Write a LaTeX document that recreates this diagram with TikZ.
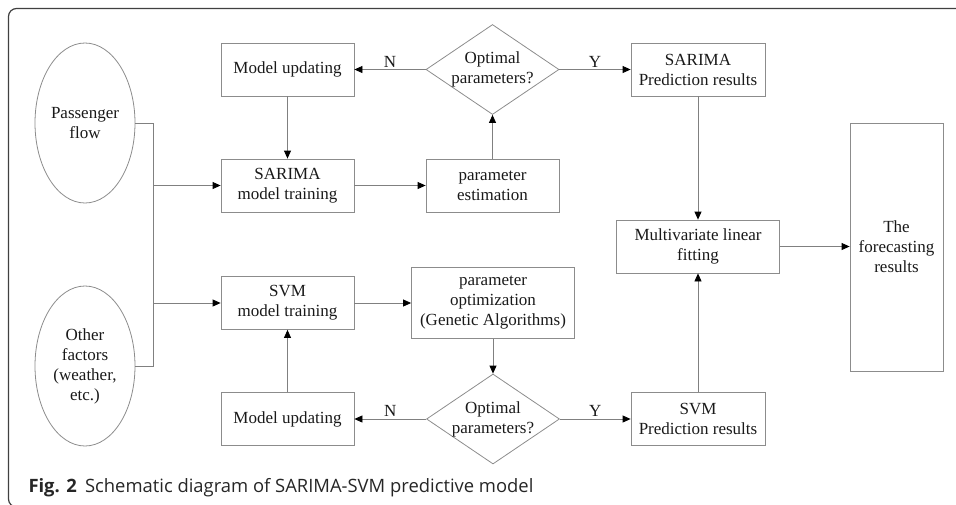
\documentclass[tikz,border=0pt]{standalone}
\usepackage{fontspec}
\setmainfont{Liberation Serif}
\newfontfamily\capfont{Open Sans}
\usetikzlibrary{arrows.meta,shapes.geometric}

\begin{document}
\begin{tikzpicture}[x=1pt, y=-1pt,
		font=\fontsize{17}{20}\selectfont,
		box/.style={draw=black!45, line width=0.8pt, align=center, inner sep=0pt, minimum width=133pt, minimum height=53pt, text=black!90},
		oval/.style={draw=black!45, line width=0.8pt, ellipse, align=center, inner sep=0pt, minimum width=100pt, minimum height=160pt, text=black!90},
		dec/.style={draw=black!45, line width=0.8pt, diamond, aspect=1.48, inner sep=-8pt, minimum width=133pt, minimum height=90pt, align=center, text=black!90},
		line/.style={draw=black!50, line width=0.8pt},
		arr/.style={line, -{Triangle[length=8pt, width=7pt, color=black]}},
		yn/.style={above, inner sep=2pt, text=black!90}]
		%%%%% START %%%%%
		
		\clip (0, 0) rectangle (956, 504);
		\draw[black!75, line width=1.2pt, rounded corners=8pt] (8.5, 8.5) rectangle (990, 507);
		
		\node[oval] (pass) at (85, 123) {Passenger\\flow};
		\node[oval] (other) at (85, 366) {Other\\factors\\(weather,\\etc.)};
		\coordinate (bus) at (153, 0);
		
		\node[box] (sarupd) at (287.5, 69.5) {Model updating};
		\node[box] (sartrain) at (287.5, 185.5) {SARIMA\\model training};
		\node[box] (sarest) at (492.5, 185.5) {parameter\\estimation};
		\node[dec] (saropt) at (492.5, 69.5) {Optimal\\parameters?};
		\node[box, minimum width=134pt] (sarres) at (698, 69.5) {SARIMA\\Prediction results};
		
		\node[box, minimum width=163pt] (fit) at (698, 246.5) {Multivariate linear\\fitting};
		\node[box, minimum width=93pt, minimum height=248pt] (fore) at (896.5, 247) {The\\forecasting\\results};
		
		\node[box] (svmtrain) at (287.5, 303) {SVM\\model training};
		\node[box, minimum width=163pt, minimum height=71pt] (svmga) at (493, 303) {parameter\\optimization\\(Genetic Algorithms)};
		\node[dec] (svmopt) at (493, 419) {Optimal\\parameters?};
		\node[box] (svmupd) at (287.5, 419) {Model updating};
		\node[box, minimum width=134pt] (svmres) at (698, 419) {SVM\\Prediction results};
		
		% inputs
		\draw[line] (pass.east) -| (bus |- other.east) -- (other.east);
		\draw[arr] (bus |- sartrain.west) -- (sartrain.west);
		\draw[arr] (bus |- svmtrain.west) -- (svmtrain.west);
		
		% SARIMA branch
		\draw[arr] (sarupd) -- (sartrain);
		\draw[arr] (sartrain) -- (sarest);
		\draw[arr] (sarest) -- (saropt);
		\draw[arr] (saropt) -- node[yn] {N} (sarupd);
		\draw[arr] (saropt) -- node[yn] {Y} (sarres);
		\draw[arr] (sarres) -- (fit);
		
		% SVM branch
		\draw[arr] (svmtrain) -- (svmga);
		\draw[arr] (svmga) -- (svmopt);
		\draw[arr] (svmopt) -- node[yn] {N} (svmupd);
		\draw[arr] (svmopt) -- node[yn] {Y} (svmres);
		\draw[arr] (svmupd) -- (svmtrain);
		\draw[arr] (svmres) -- (fit);
		
		\draw[arr] (fit.east) -- (fit.east -| fore.west);
		
		\node[anchor=base west, font=\capfont\fontsize{18.4}{20}\selectfont, text=black!85] (cap) at (25, 492) {\textbf{Fig. 2}\hspace{0.45em}Schematic diagram of SARIMA-SVM predictive model};
		
		%%%%% END %%%%%
	\end{tikzpicture}
\end{document}
